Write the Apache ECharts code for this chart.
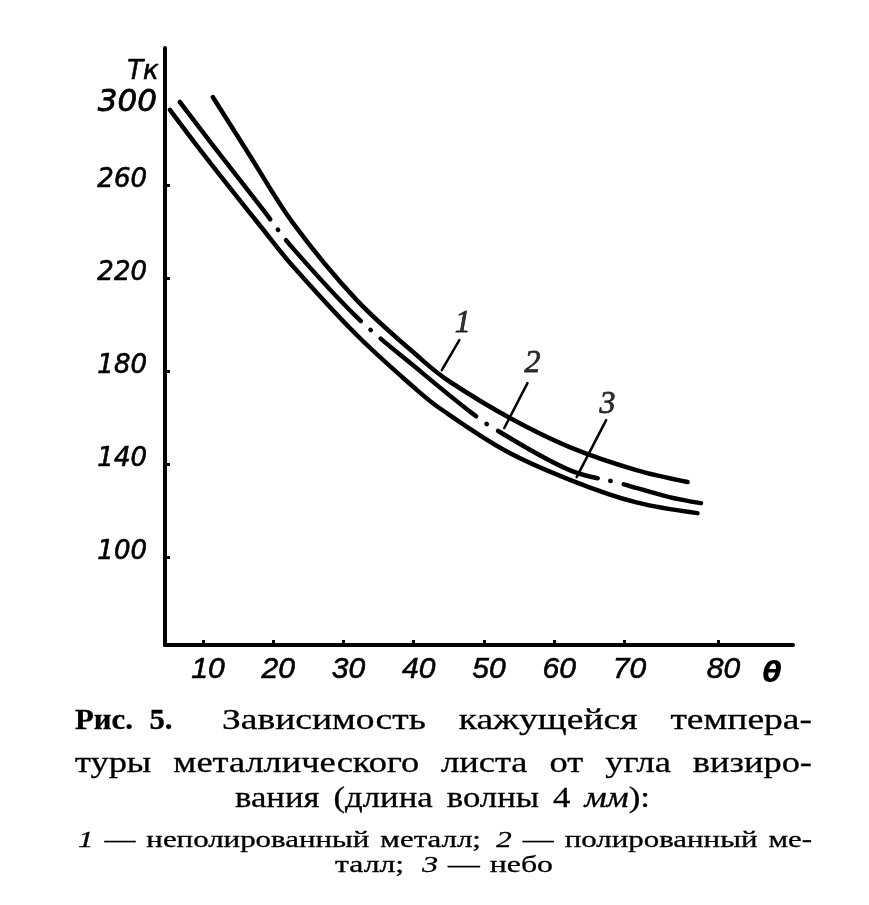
<!DOCTYPE html>
<html>
<head>
<meta charset="utf-8">
<script src="https://cdn.jsdelivr.net/npm/echarts@6/dist/echarts.min.js"></script>
<style>
html,body{margin:0;padding:0;background:#fff;}
#chart{width:869px;height:905px;}
</style>
</head>
<body>
<div id="chart"></div>
<script>
// ---- data ----
// curve 1: unpolished metal
const curve1Angle = [11.4, 16.4, 22.8, 31.9, 41.3, 45.1, 53.7, 62.2, 71.7, 79.0];
const curve1Temp  = [297.8, 274.0, 243.7, 210.5, 184.5, 175.5, 159.8, 147.3, 137.4, 132.3];
// curve 2: polished metal (dash-dot)
const curve2Angle = [6.7, 11.7, 18.8, 22.4, 31.9, 41.3, 48.3, 51.8, 62.2, 69.3, 76.4, 80.9];
const curve2Temp  = [295.7, 276.0, 248.4, 234.2, 203.2, 179.0, 161.9, 154.6, 137.4, 131.8, 125.8, 123.2];
// curve 3: sky
const curve3Angle = [5.3, 9.3, 14.1, 18.4, 22.4, 31.9, 40.4, 43.7, 53.2, 62.6, 71.7, 80.4];
const curve3Temp  = [292.3, 276.3, 257.8, 241.5, 226.5, 195.5, 172.0, 164.0, 145.5, 132.8, 123.5, 118.9];

// tick labels (the original drawing places "80" and "300" slightly off the regular grid)
const xTickValues = [10, 20, 30, 40, 50, 60, 70, 83.4];
const xTickLabels = ['10', '20', '30', '40', '50', '60', '70', '80'];
const yTickValues = [100, 140, 180, 220, 260];
const yLabelValues = [100, 140, 180, 220, 260, 293];
const yTickLabels = ['100', '140', '180', '220', '260', '300'];

// curve number callouts: [label position, leader start, leader end]
const calloutNames = ['1', '2', '3'];
const calloutLabelPos = [[47.0, 200.6], [56.9, 183.4], [67.6, 165.4]];
const calloutLeaderFrom = [[46.5, 193.3], [56.2, 174.8], [67.4, 158.9]];
const calloutLeaderTo = [[44.0, 180.4], [52.9, 155.5], [63.2, 134.4]];

// caption (words; 'b' = bold, 'i' = italic)
const captionLines = [
  {words: [['Рис.', 'b'], ['5.', 'b'], ['Зависимость'], ['кажущейся'], ['темпера-']], gapW: [0.5, 1.5, 1, 1], gap: 33, size: 30, x0: 75, x1: 812, y: 721},
  {words: [['туры'], ['металлического'], ['листа'], ['от'], ['угла'], ['визиро-']], gapW: [1, 1, 1, 1, 1], gap: 22, size: 30, x0: 75, x1: 812, y: 764},
  {words: [['вания'], ['(длина'], ['волны'], ['4'], ['мм', 'i'], ['):']], gapW: [1, 1, 1, 1, 0], gap: 14, size: 30, x0: 235, x1: 650, y: 799},
  {words: [['1', 'i'], ['—'], ['неполированный'], ['металл;'], ['2', 'i'], ['—'], ['полированный'], ['ме-']], gapW: [1, 1, 1, 1.4, 1, 1, 1], gap: 11, size: 23, x0: 78, x1: 812, y: 841},
  {words: [['талл;'], ['3', 'i'], ['—'], ['небо']], gapW: [1.8, 1, 1], gap: 10, size: 23, x0: 335, x1: 553, y: 866}
];

const toPairs = (xs, ys) => xs.map((x, i) => [x, ys[i]]);

// ---- caption layout (word by word, justified) ----
const mctx = document.createElement('canvas').getContext('2d');
function fontOf(size, style) {
  return (style === 'i' ? 'italic ' : '') + (style === 'b' ? 'bold ' : '') + size + 'px "Liberation Serif"';
}
const graphics = [];
captionLines.forEach(line => {
  const items = line.words.map(w => {
    const f = fontOf(line.size, w[1]);
    mctx.font = f;
    // bold words of the original are set narrower
    const k = w[1] === 'b' ? 0.82 : 1;
    return {text: w[0], font: f, w: mctx.measureText(w[0]).width * k, k};
  });
  const natural = items.reduce((s, it) => s + it.w, 0);
  const sumW = line.gapW.reduce((s, v) => s + v, 0);
  const sx = (line.x1 - line.x0 - line.gap * sumW) / natural;
  let x = line.x0;
  items.forEach((it, i) => {
    if (i > 0) x += line.gap * line.gapW[i - 1];
    graphics.push({
      type: 'text', x: x, y: line.y, scaleX: sx * it.k, silent: true,
      style: {text: it.text, font: it.font, fill: '#000', stroke: '#000', lineWidth: 0.3,
        textAlign: 'left', textVerticalAlign: 'middle'}
    });
    x += it.w * sx;
  });
});
graphics.push({type: 'text', x: 143, y: 72, silent: true,
  style: {text: 'Тк', font: 'italic 26px "DejaVu Sans"', fill: '#000', stroke: '#000', lineWidth: 0.6, textAlign: 'center', textVerticalAlign: 'middle'}});
graphics.push({type: 'text', x: 772, y: 675, silent: true,
  style: {text: 'θ', font: 'italic bold 28px "DejaVu Sans"', fill: '#000', textAlign: 'center', textVerticalAlign: 'middle'}});

// ---- chart ----
const chart = echarts.init(document.getElementById('chart'), null, {renderer: 'canvas'});
const curveLine = {color: '#000', width: 4.5, cap: 'round', join: 'round'};

const series = [
  {type: 'line', name: '1', data: toPairs(curve1Angle, curve1Temp), smooth: 0.35, showSymbol: false, lineStyle: curveLine},
  {type: 'line', name: '2', data: toPairs(curve2Angle, curve2Temp), smooth: 0.35, showSymbol: false,
    lineStyle: Object.assign({}, curveLine, {type: [148, 13, 0.5, 13, 110, 13, 0.5, 13, 123, 13, 0.5, 13, 111, 13, 0.5, 13, 300]})},
  {type: 'line', name: '3', data: toPairs(curve3Angle, curve3Temp), smooth: 0.35, showSymbol: false, lineStyle: curveLine}
];
calloutNames.forEach((n, i) => {
  series.push({type: 'line', data: [calloutLeaderFrom[i], calloutLeaderTo[i]], showSymbol: false, silent: true,
    lineStyle: {color: '#000', width: 2.5, cap: 'round'}});
});
series.push({
  type: 'scatter', symbolSize: 0, silent: true, itemStyle: {color: '#000'},
  data: calloutNames.map((n, i) => ({name: n, value: calloutLabelPos[i]})),
  label: {show: true, position: 'inside', formatter: '{b}', color: '#000', textBorderColor: '#000', textBorderWidth: 0.8,
    fontFamily: 'Liberation Serif', fontStyle: 'italic', fontSize: 32}
});

chart.setOption({
  animation: false,
  backgroundColor: '#fff',
  grid: {left: 165, right: 76, top: 48, bottom: 260, containLabel: false},
  xAxis: {
    type: 'value', min: 4.6, max: 94,
    splitLine: {show: false},
    axisLine: {show: true, lineStyle: {color: '#000', width: 4}},
    axisTick: {show: true, inside: true, length: 5, customValues: xTickValues, lineStyle: {color: '#000', width: 3}},
    axisLabel: {
      show: true, customValues: xTickValues, margin: 10, padding: [0, 0, 0, 10],
      formatter: v => xTickLabels[xTickValues.indexOf(v)],
      color: '#000', textBorderColor: '#000', textBorderWidth: 0.6,
      fontFamily: 'Liberation Sans', fontStyle: 'italic', fontSize: 30
    }
  },
  yAxis: {
    type: 'value', min: 62.2, max: 318.9,
    splitLine: {show: false},
    axisLine: {show: true, lineStyle: {color: '#000', width: 4}},
    axisTick: {show: true, inside: true, length: 5, customValues: yTickValues, lineStyle: {color: '#000', width: 3}},
    axisLabel: {
      show: true, customValues: yLabelValues, margin: 18, padding: [0, 0, 10, 0],
      formatter: v => {
        const t = yTickLabels[yLabelValues.indexOf(v)];
        return t === '300' ? '{big|' + t + '}' : t;
      },
      rich: {big: {fontSize: 31, fontFamily: 'DejaVu Sans', fontStyle: 'italic', color: '#000',
        textBorderColor: '#000', textBorderWidth: 0.8, padding: [0, -10, 0, 0]}},
      color: '#000', textBorderColor: '#000', textBorderWidth: 0.6,
      fontFamily: 'DejaVu Sans', fontStyle: 'italic', fontSize: 26
    }
  },
  series: series,
  graphic: graphics
});
</script>
</body>
</html>
